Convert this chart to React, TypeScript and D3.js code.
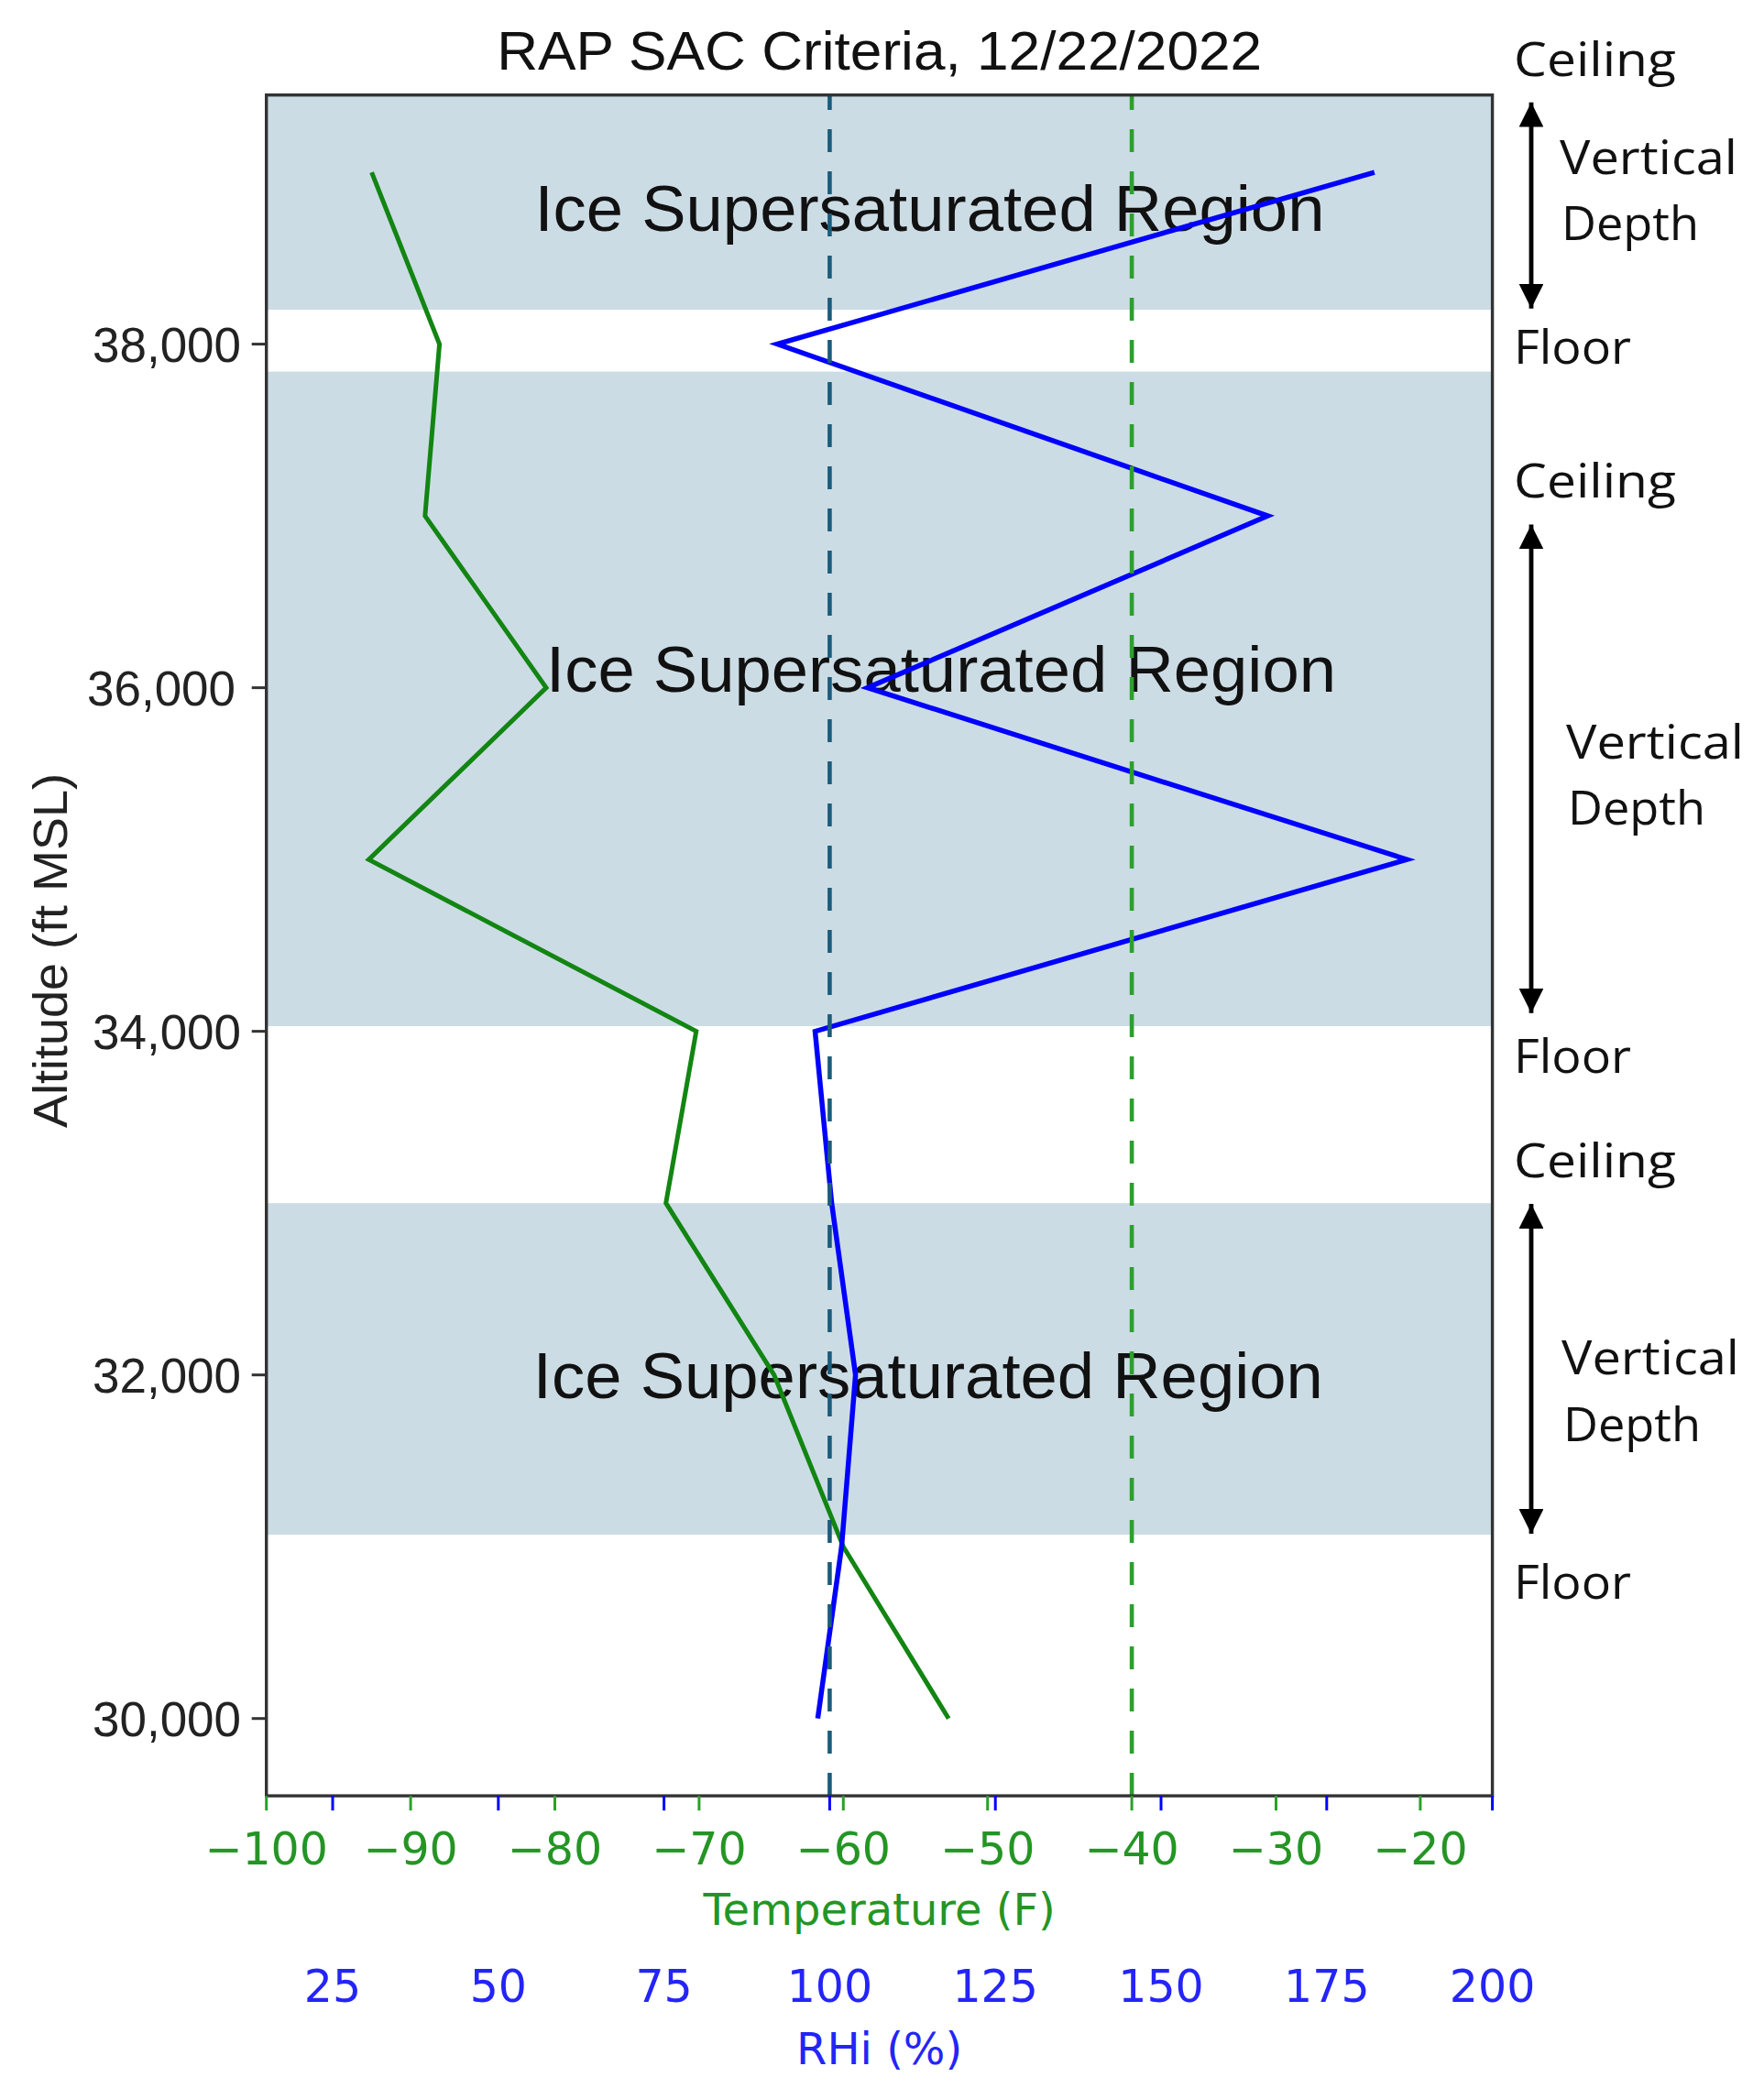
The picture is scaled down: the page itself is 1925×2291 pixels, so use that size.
import React from 'react';
import * as d3 from 'd3';

// ---------------- data ----------------
const altitudes = [30000, 31000, 32000, 33000, 34000, 35000, 36000, 37000, 38000, 39000];
const temperatureF = [-52.7, -60.0, -64.8, -72.3, -70.2, -92.9, -80.6, -89.0, -88.0, -92.7];
const rhiPct = [98.2, 101.8, 103.9, 100.3, 97.8, 187.1, 105.7, 166.1, 92.1, 182.2];
const issrBands: [number, number][] = [[38200, 39450], [34030, 37840], [31070, 33000]];
const altTicks = [30000, 32000, 34000, 36000, 38000];
const tempTicks = [-100, -90, -80, -70, -60, -50, -40, -30, -20];
const rhiTicks = [25, 50, 75, 100, 125, 150, 175, 200];
const rhiThreshold = 100;
const tempThreshold = -40;
const titleText = 'RAP SAC Criteria, 12/22/2022';
const regionText = 'Ice Supersaturated Region';
const regionLabelAnchors: [number, number][] = [[-81.4, 38790], [-80.6, 36110], [-81.5, 32000]];

// ---------------- layout ----------------
const W = 1925, H = 2291;
const L = 290.7, R = 1628.6, T = 103.7, B = 1960.1;

const yScale = d3.scaleLinear().domain([29550, 39450]).range([B, T]);
const tScale = d3.scaleLinear().domain([-100, -15]).range([L, R]);
const rScale = d3.scaleLinear().domain([15, 200]).range([L, R]);

const GREEN_LINE = '#128512';
const GREEN_TXT = '#249524';
const BLUE_LINE = '#0000ff';
const BLUE_TXT = '#2424f8';
const TEAL = '#1b5c7c';
const BAND = '#ccdce5';
const SPINE = '#333333';

const fmtAlt = d3.format(',');
const fmtNum = d3.format('');

// right side annotation groups (pixel layout)
const annoGroups = [
  { ceil: 83.3, vert: 190, depth: 261.7, floor: 396.7, a0: 111.7, a1: 336.7, vx: 1702 },
  { ceil: 543, vert: 828, depth: 899.5, floor: 1171, a0: 572.6, a1: 1105.7, vx: 1709 },
  { ceil: 1285, vert: 1499.6, depth: 1573, floor: 1745, a0: 1314, a1: 1674, vx: 1704 },
];

export default function App() {
  const pts = altitudes.map((a, i) => ({ a, t: temperatureF[i], r: rhiPct[i] }));
  const tLine = d3.line<any>().x(d => tScale(d.t)).y(d => yScale(d.a));
  const rLine = d3.line<any>().x(d => rScale(d.r)).y(d => yScale(d.a));
  const ax = 1671;
  const annoFont = "'Open Sans', 'Noto Sans', sans-serif";
  const armFont = "'Liberation Sans', Arial, sans-serif";
  const djv = "'DejaVu Sans', sans-serif";

  return (
    <svg width={W} height={H} viewBox={`0 0 ${W} ${H}`}
      style={{ position: 'absolute', left: 0, top: 0, display: 'block', background: '#fff' }}>
      <rect x={0} y={0} width={W} height={H} fill="#fff" />
      {/* bands */}
      {issrBands.map(([lo, hi], i) => (
        <rect key={i} x={L} width={R - L} y={yScale(hi)} height={yScale(lo) - yScale(hi)} fill={BAND} />
      ))}
      {/* region labels */}
      {regionLabelAnchors.map(([t, a], i) => (
        <text key={i} x={tScale(t)} y={yScale(a) + 25} fontFamily={armFont} fontSize={71}
          fill="#111" textLength={862} lengthAdjust="spacingAndGlyphs">{regionText}</text>
      ))}
      {/* data lines */}
      <path d={tLine(pts) || ''} fill="none" stroke={GREEN_LINE} strokeWidth={5} strokeLinejoin="miter" />
      <path d={rLine(pts) || ''} fill="none" stroke={BLUE_LINE} strokeWidth={5.5} strokeLinejoin="miter" />
      {/* thresholds */}
      <line x1={rScale(rhiThreshold)} x2={rScale(rhiThreshold)} y1={B} y2={T}
        stroke={TEAL} strokeWidth={4.6} strokeDasharray="25 21" />
      <line x1={tScale(tempThreshold)} x2={tScale(tempThreshold)} y1={B} y2={T}
        stroke={'#2ca02c'} strokeWidth={4.6} strokeDasharray="25 21" />
      {/* spines */}
      <rect x={L} y={T} width={R - L} height={B - T} fill="none" stroke={SPINE} strokeWidth={3.4} />
      {/* y ticks */}
      {altTicks.map(a => (
        <g key={a}>
          <line x1={L - 16} x2={L} y1={yScale(a)} y2={yScale(a)} stroke={SPINE} strokeWidth={3} />
          <text x={a === 36000 ? 257 : 263} y={yScale(a) + 19} textAnchor="end" fontFamily={armFont}
            fontSize={53} fill="#222" textLength={162} lengthAdjust="spacingAndGlyphs">{fmtAlt(a)}</text>
        </g>
      ))}
      <text transform={`translate(73, ${yScale(34470)}) rotate(-90)`} textAnchor="middle" fontFamily={armFont}
        fontSize={51} fill="#222" textLength={387} lengthAdjust="spacingAndGlyphs">Altitude (ft MSL)</text>
      {/* bottom ticks */}
      {tempTicks.map(t => (
        <g key={'t' + t}>
          <line x1={tScale(t)} x2={tScale(t)} y1={B} y2={B + 16} stroke={'#2ca02c'} strokeWidth={3} />
          <text x={tScale(t)} y={2035} textAnchor="middle" fontFamily={djv} fontSize={49} fill={GREEN_TXT}>{fmtNum(t)}</text>
        </g>
      ))}
      {rhiTicks.map(r => (
        <g key={'r' + r}>
          <line x1={rScale(r)} x2={rScale(r)} y1={B} y2={B + 16} stroke={BLUE_LINE} strokeWidth={3} />
          <text x={rScale(r)} y={2185} textAnchor="middle" fontFamily={djv} fontSize={49} fill={BLUE_TXT}>{fmtNum(r)}</text>
        </g>
      ))}
      <text x={(L + R) / 2} y={2101} textAnchor="middle" fontFamily={djv} fontSize={48} fill={GREEN_TXT}>Temperature (F)</text>
      <text x={(L + R) / 2} y={2253} textAnchor="middle" fontFamily={djv} fontSize={48} fill={BLUE_TXT}>RHi (%)</text>
      {/* title */}
      <text x={(L + R) / 2} y={76} textAnchor="middle" fontFamily={armFont} fontSize={60} fill="#111"
        textLength={835} lengthAdjust="spacingAndGlyphs">{titleText}</text>
      {/* right annotations */}
      <defs>
        <marker id="ah" viewBox="0 0 10 10" refX={10} refY={5} markerWidth={5.6} markerHeight={5.6}
          markerUnits="strokeWidth" orient="auto-start-reverse">
          <path d="M0,0 L10,5 L0,10 z" fill="#000" />
        </marker>
      </defs>
      {annoGroups.map((g, i) => (
        <g key={i} fontFamily={annoFont} fontSize={52} fill="#111">
          <text x={1652} y={g.ceil} textLength={177} lengthAdjust="spacingAndGlyphs">Ceiling</text>
          <text x={g.vx} y={g.vert} textLength={194} lengthAdjust="spacingAndGlyphs">Vertical</text>
          <text x={g.vx + 2} y={g.depth} textLength={150} lengthAdjust="spacingAndGlyphs">Depth</text>
          <text x={1652} y={g.floor} textLength={128} lengthAdjust="spacingAndGlyphs">Floor</text>
          <line x1={ax} x2={ax} y1={g.a0} y2={g.a1} stroke="#000" strokeWidth={4.8}
            markerStart="url(#ah)" markerEnd="url(#ah)" />
        </g>
      ))}
    </svg>
  );
}
